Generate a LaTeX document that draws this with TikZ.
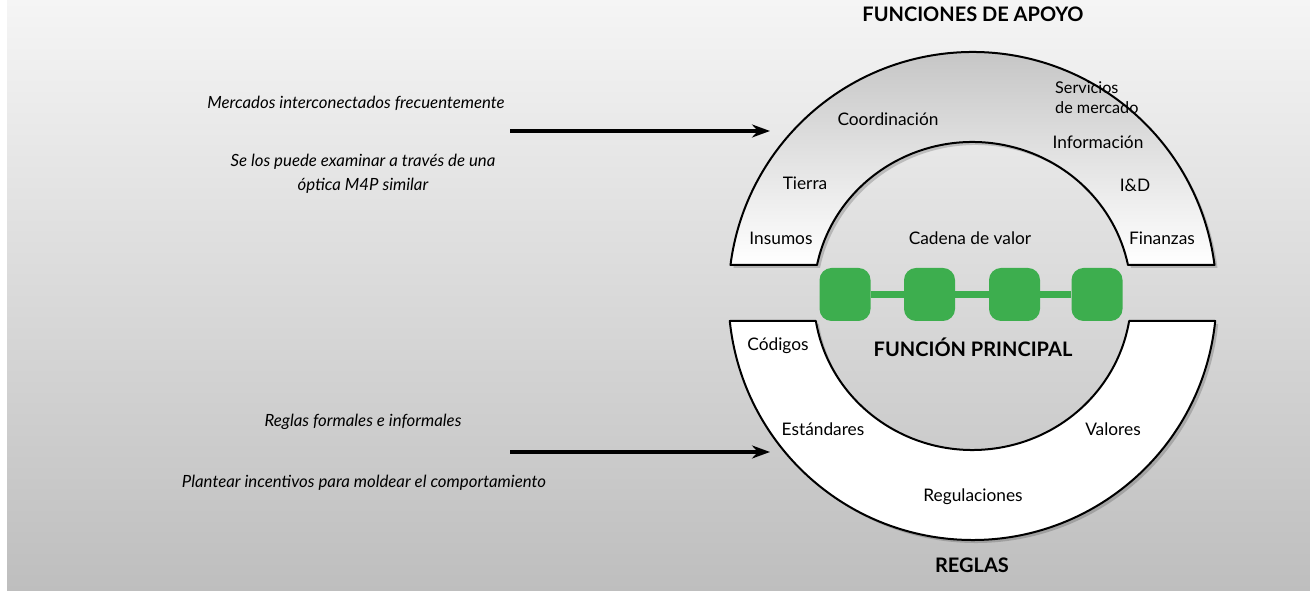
\documentclass[tikz,border=0pt]{standalone}
\usepackage{fontspec}
\setmainfont{Lato}
\usetikzlibrary{arrows.meta}
\definecolor{bgtop}{HTML}{F5F5F5}
\definecolor{bgbot}{HTML}{BEBEBE}
\definecolor{arctop}{HTML}{C2C2C2}
\definecolor{vcgreen}{HTML}{3DAE4E}
\begin{document}
\begin{tikzpicture}[x=1pt,y=1pt,
  lbl/.style={font=\fontsize{17.3}{20}\selectfont, inner sep=0pt},
  hd/.style={font=\bfseries\fontsize{20}{22}\selectfont, inner sep=0pt},
  side/.style={font=\itshape\fontsize{16.8}{24}\selectfont, inner sep=0pt, align=center},
  band/.style={draw=black, line width=2pt, line join=round},
  shadowband/.style={fill=black, opacity=0.18},
  gbox/.style={fill=vcgreen, rounded corners=12pt, minimum width=51pt, minimum height=53pt, inner sep=0pt},
  link/.style={draw=vcgreen, line width=7pt},
  bigarrow/.style={-{Stealth[length=18pt,width=13pt]}, line width=3.5pt}]
\useasboundingbox (0,0) rectangle (1310,591);
% background panel
\shade[top color=bgtop, bottom color=bgbot] (7,0) rectangle (1310,591);
% shadows
\fill[shadowband, shift={(3,-3)}] (1214.5,326) arc[start angle=7.299, end angle=172.701, x radius=244, y radius=244] -- (817.0,326) arc[start angle=168.387, end angle=11.613, x radius=158.75, y radius=154] -- cycle;
\fill[shadowband, shift={(3,-3)}] (1215.2,270) arc[start angle=-5.881, end angle=-174.119, x radius=244, y radius=244] -- (815.85,270) arc[start angle=-170.658, end angle=-9.342, x radius=158.75, y radius=154] -- cycle;
% upper band: supporting functions
\path[band, top color=arctop, bottom color=white] (1214.5,326) arc[start angle=7.299, end angle=172.701, x radius=244, y radius=244] -- (817.0,326) arc[start angle=168.387, end angle=11.613, x radius=158.75, y radius=154] -- cycle;
% lower band: rules
\path[band, fill=white] (1215.2,270) arc[start angle=-5.881, end angle=-174.119, x radius=244, y radius=244] -- (815.85,270) arc[start angle=-170.658, end angle=-9.342, x radius=158.75, y radius=154] -- cycle;
% value chain
\node[gbox] (g1) at (845,296.5) {};
\node[gbox] (g2) at (929.5,296.5) {};
\node[gbox] (g3) at (1014.5,296.5) {};
\node[gbox] (g4) at (1097,296.5) {};
\path[link] (g1.east) -- (g2.west);
\path[link] (g2.east) -- (g3.west);
\path[link] (g3.east) -- (g4.west);
% headings
\node[hd] (hfa) at (973,577) {FUNCIONES DE APOYO};
\node[hd] (hfp) at (973,244) {FUNCIÓN PRINCIPAL};
\node[hd] (hre) at (972,26) {REGLAS};
% upper labels
\node[lbl, anchor=west, align=left, font=\fontsize{16.2}{20}\selectfont] (serv) at (1055,493) {Servicios\\de mercado};
\node[lbl] (coord) at (888,472) {Coordinación};
\node[lbl] (info) at (1098,449) {Información};
\node[lbl] (tierra) at (805,408) {Tierra};
\node[lbl] (iyd) at (1135,406) {I\&D};
\node[lbl] (insumos) at (781,353) {Insumos};
\node[lbl] (cadena) at (970,353) {Cadena de valor};
\node[lbl] (finanzas) at (1162,353) {Finanzas};
% lower labels
\node[lbl] (codigos) at (778,245) {Códigos};
\node[lbl] (estandares) at (823,162) {Estándares};
\node[lbl] (valores) at (1113,162) {Valores};
\node[lbl] (regulaciones) at (973,94) {Regulaciones};
% side texts
\node[side] (t1) at (356,488) {Mercados interconectados frecuentemente};
\node[side] (t2) at (363,417) {Se los puede examinar a través de una\\óptica M4P similar};
\node[side] (t3) at (363,169) {Reglas formales e informales};
\node[side] (t4) at (364,108) {Plantear incentivos para moldear el comportamiento};
% arrows
\coordinate (a1s) at (510,460);
\coordinate (a1e) at (770,460);
\coordinate (a2s) at (510,139);
\coordinate (a2e) at (770,139);
\draw[bigarrow] (a1s) -- (a1e);
\draw[bigarrow] (a2s) -- (a2e);
\end{tikzpicture}
\end{document}
